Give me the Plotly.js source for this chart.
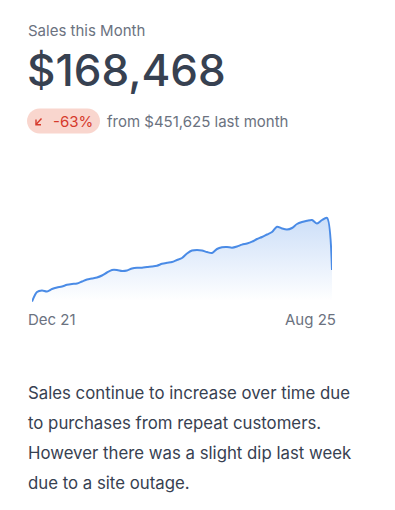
<!DOCTYPE html>
<html>
<head>
<meta charset="utf-8">
<script src="https://cdn.plot.ly/plotly-3.0.1.min.js"></script>
<style>
html,body{margin:0;padding:0;background:#fff;}
#chart{width:395px;height:510px;}
</style>
</head>
<body>
<div id="chart"></div>
<script>
// ---- data ----
const titleText = 'Sales this Month';
const totalText = '$168,468';
const changeText = '-63%';
const compareText = 'from $451,625 last month';
const tickLabels = ['Dec 21', 'Aug 25'];
const noteLines = [
  'Sales continue to increase over time due',
  'to purchases from repeat customers.',
  'However there was a slight dip last week',
  'due to a site outage.'
];
const periods = Array.from({length: 61}, (_, i) => i);
const sales = [
  -1.5, 8, 9.5, 8.5, 11, 12.5, 13.5, 15.2, 16, 16.5,
  18.5, 20.5, 21.5, 22.5, 24.5, 27.5, 30, 30, 29, 29.5,
  31.5, 32.3, 32.3, 33, 33.5, 34.3, 36.2, 37.2, 38, 40,
  42, 46.5, 49.5, 50, 49.5, 48, 47, 51, 52.7, 53,
  52.3, 53.5, 55.4, 56.5, 58.3, 61, 63, 65.5, 68, 73.3,
  71.5, 70.5, 72, 76, 78, 79.2, 80, 76.5, 80, 82.2,
  30
];

// ---- layout helpers ----
const W = 395, H = 510;
const L = 32, R = 332, T = 200, B = 302;
const px = x => (x - L) / (R - L);
const py = y => (B - y) / (B - T);
const FONT = 'Inter, "Noto Sans", sans-serif';
const GRAY = '#6b7280', DARK = '#374151', RED = '#d63a2c', PINK = '#f9d6ce';

function pillPath(x0, y0, x1, y1) {
  const r = (y1 - y0) / 2, k = 0.5523 * r;
  const P = (x, y) => px(x).toFixed(5) + ',' + py(y).toFixed(5);
  return 'M' + P(x0 + r, y0) + ' L' + P(x1 - r, y0) +
    ' C' + P(x1 - r + k, y0) + ' ' + P(x1, y0 + r - k) + ' ' + P(x1, y0 + r) +
    ' C' + P(x1, y0 + r + k) + ' ' + P(x1 - r + k, y1) + ' ' + P(x1 - r, y1) +
    ' L' + P(x0 + r, y1) +
    ' C' + P(x0 + r - k, y1) + ' ' + P(x0, y0 + r + k) + ' ' + P(x0, y0 + r) +
    ' C' + P(x0, y0 + r - k) + ' ' + P(x0 + r - k, y0) + ' ' + P(x0 + r, y0) + ' Z';
}
function linePath(pts) {
  return pts.map((p, i) => (i ? 'L' : 'M') + px(p[0]).toFixed(5) + ',' + py(p[1]).toFixed(5)).join(' ');
}
function ann(text, x, y, size, color, xanchor, weight) {
  return {text: text, xref: 'paper', yref: 'paper', x: px(x), y: py(y),
    xanchor: xanchor || 'left', yanchor: 'middle', showarrow: false,
    font: {family: FONT, size: size, color: color, weight: weight || 400}};
}

const trace = {
  x: periods, y: sales, type: 'scatter', mode: 'lines',
  line: {color: '#4a8be6', width: 2, shape: 'spline', smoothing: 0.8},
  fill: 'tozeroy',
  fillgradient: {type: 'vertical',
    colorscale: [[0, 'rgba(74,139,230,0)'], [1, 'rgba(74,139,230,0.28)']]},
  hoverinfo: 'skip'
};

const annotations = [
  ann(titleText, 26, 30, 15, GRAY),
  ann(totalText, 24.5, 70, 44, DARK, 'left', 500),
  ann(changeText, 50.5, 121, 15, RED),
  ann(compareText, 105, 121, 15, GRAY),
  ann(tickLabels[0], 26, 319, 15, GRAY),
  ann(tickLabels[tickLabels.length - 1], 338, 319, 15, GRAY, 'right')
];
noteLines.forEach((t, i) => annotations.push(ann(t, 26, 393 + 30 * i, 16.8, DARK)));

const shapes = [
  {type: 'path', xref: 'paper', yref: 'paper', path: pillPath(27, 108.5, 100, 133.5),
   fillcolor: PINK, line: {width: 0}, layer: 'below'},
  {type: 'path', xref: 'paper', yref: 'paper',
   path: linePath([[41.5, 118.5], [36, 124.5]]), line: {color: RED, width: 1.4}},
  {type: 'path', xref: 'paper', yref: 'paper',
   path: linePath([[36, 119.5], [36, 124.8], [41, 124.8]]), line: {color: RED, width: 1.4}}
];

const layout = {
  width: W, height: H,
  margin: {l: L, r: W - R, t: T, b: H - B, pad: 0},
  paper_bgcolor: '#ffffff', plot_bgcolor: 'rgba(0,0,0,0)',
  showlegend: false,
  xaxis: {visible: false, range: [0, periods.length - 1], fixedrange: true},
  yaxis: {visible: false, range: [-2, 100], fixedrange: true},
  annotations: annotations,
  shapes: shapes,
  hovermode: false
};

Plotly.newPlot('chart', [trace], layout, {displayModeBar: false, staticPlot: true});
</script>
</body>
</html>
